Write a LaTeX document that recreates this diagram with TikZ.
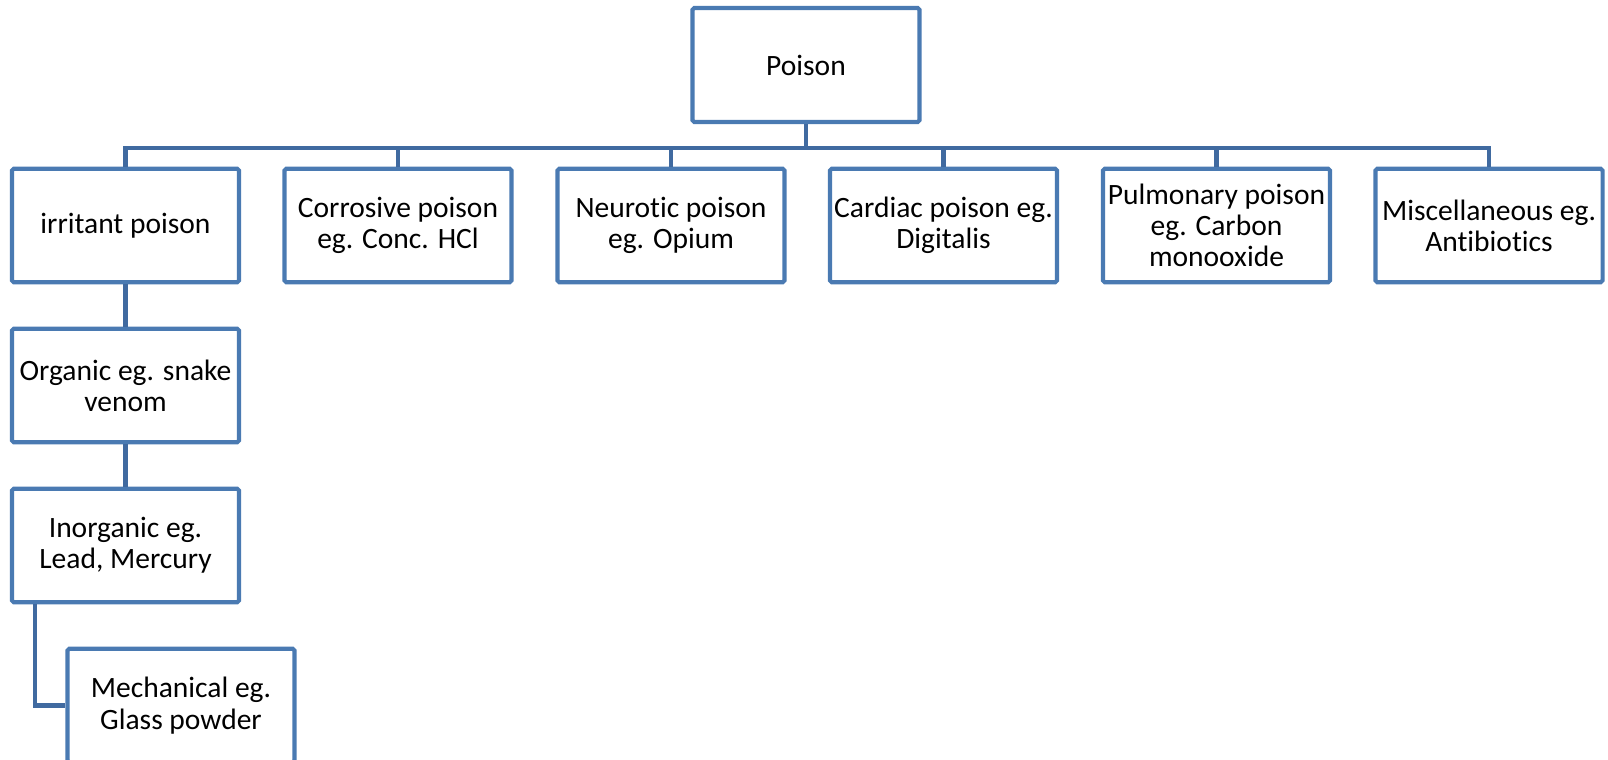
\documentclass[tikz,border=0pt]{standalone}
\usepackage{fontspec}
\setmainfont[Ligatures=NoCommon]{Carlito}
\definecolor{boxblue}{RGB}{74,122,178}
\definecolor{linkblue}{RGB}{64,106,160}
\begin{document}
\begin{tikzpicture}[every node/.style={align=center, font=\fontsize{16.8}{17.8}\selectfont},
  box/.style={draw=boxblue, line width=2.3pt, rounded corners=1pt, minimum width=4.54cm, minimum height=2.27cm, inner sep=1pt},
  link/.style={draw=linkblue, line width=2.3pt}]
\useasboundingbox (0,0) rectangle (32.16,-15.18);
\node[box, minimum height=2.28cm] at (16.12,-1.30) (poison) {Poison};

\node[box] at (2.51,-4.51) (irritant) {irritant poison};
\node[box] at (7.96,-4.51) (corrosive) {Corrosive poison\\eg. Conc. HCl};
\node[box] at (13.42,-4.51) (neurotic) {Neurotic poison\\eg. Opium};
\node[box] at (18.87,-4.51) (cardiac) {Cardiac poison eg.\\Digitalis};
\node[box] at (24.33,-4.51) (pulmonary) {Pulmonary poison\\eg. Carbon\\monooxide};
\node[box] at (29.78,-4.51) (misc) {Miscellaneous eg.\\Antibiotics};

\node[box] at (2.51,-7.71) (organic) {Organic eg. snake\\venom};
\node[box] at (2.51,-10.91) (inorganic) {Inorganic eg.\\Lead, Mercury};
\node[box] at (3.62,-14.11) (mechanical) {Mechanical eg.\\Glass powder};

\foreach \kind in {irritant, corrosive, neurotic, cardiac, pulmonary, misc}
  \draw[link] (poison.south) -- ++(0,-0.48) -| (\kind.north);
\draw[link] (irritant) -- (organic);
\draw[link] (organic) -- (inorganic);
\draw[link] ([xshift=-1.81cm]inorganic.south) |- (mechanical.west);
\end{tikzpicture}
\end{document}
